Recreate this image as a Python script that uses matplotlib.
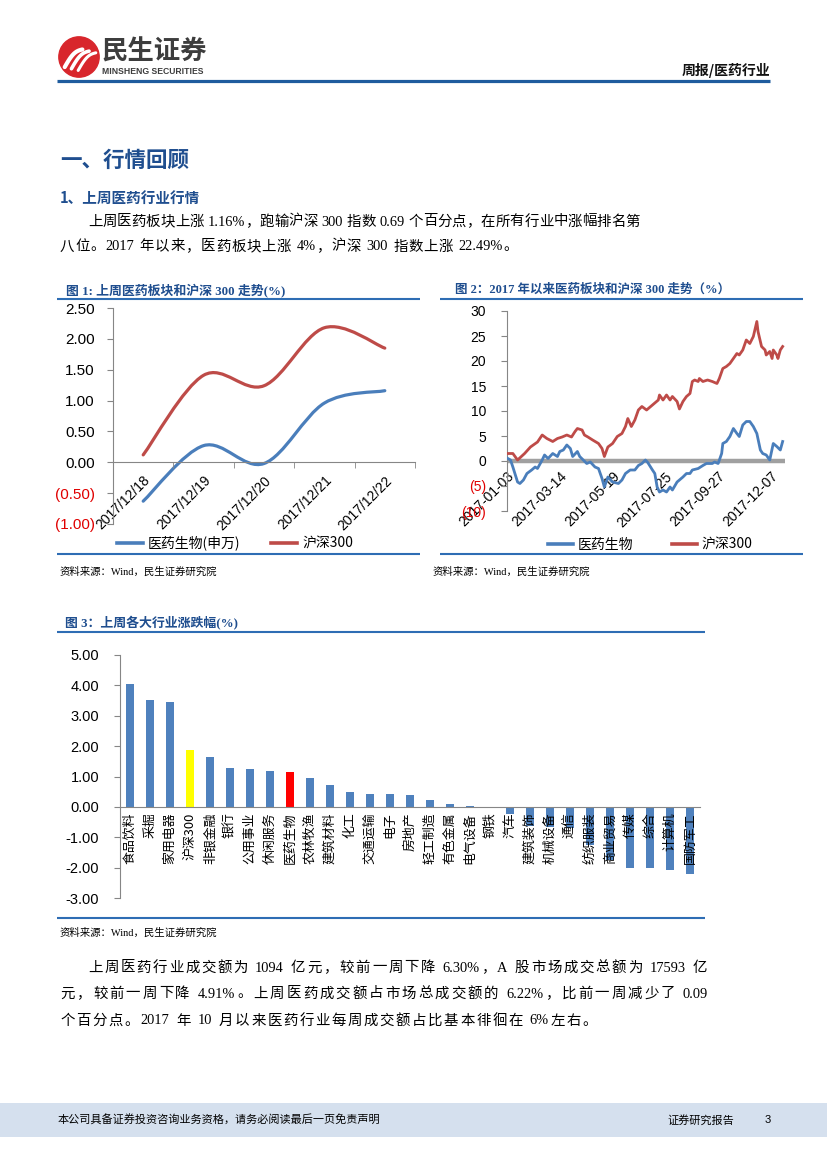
import numpy as np
import matplotlib
matplotlib.use('Agg')
import matplotlib.pyplot as plt
from matplotlib.path import Path
from matplotlib.patches import PathPatch, Circle, Rectangle
from matplotlib.lines import Line2D

# ---------------- data ----------------
c1_dates = ['2017/12/18', '2017/12/19', '2017/12/20', '2017/12/21', '2017/12/22']
c1_pharma = [-0.63, 0.27, -0.02, 0.96, 1.16]
c1_hs300 = [0.12, 1.41, 1.24, 2.18, 1.85]
c1_yticks = [-1.0, -0.5, 0.0, 0.5, 1.0, 1.5, 2.0, 2.5]
c1_ylabels = ['(1.00)', '(0.50)', '0.00', '0.50', '1.00', '1.50', '2.00', '2.50']

c2_tick_idx = [0, 45, 90, 135, 180, 225]
c2_tick_labels = ['2017-01-03', '2017-03-14', '2017-05-19', '2017-07-25', '2017-09-27', '2017-12-07']
c2_yticks = [-10, -5, 0, 5, 10, 15, 20, 25, 30]
c2_ylabels = ['(10)', '(5)', '0', '5', '10', '15', '20', '25', '30']

c2_hs300_idx = [0, 5, 9, 15, 20, 26, 30, 34, 39, 43, 47, 51, 55, 58, 60, 64, 66, 69, 73, 78,
                81, 83, 86, 90, 94, 98, 101, 103, 106, 109, 112, 115, 119, 124, 129, 130, 133, 136,
                139, 141, 145, 147, 150, 153, 156, 158, 160, 163, 164, 167, 171, 175, 179, 181, 184,
                187, 190, 193, 196, 198, 201, 204, 207, 210, 213, 214, 217, 220, 221, 224, 226, 227,
                230, 231, 233, 235]
c2_hs300_val = [1.5, 1.5, 0.2, 1.5, 2.8, 3.8, 5.2, 4.5, 3.9, 4.5, 4.8, 5.2, 4.8, 5.9, 6.5, 6.2,
                5.2, 4.8, 4.2, 3.5, 2.5, 0.9, 2.8, 3.5, 4.9, 5.5, 6.9, 8.5, 6.9, 8.2, 10.2, 10.9,
                10.2, 11.2, 12.2, 13.2, 12.2, 13.2, 12.2, 12.9, 11.9, 10.4, 11.9, 12.9, 13.5, 15.9,
                16.2, 15.9, 16.5, 15.9, 16.2, 15.9, 15.5, 16.5, 18.5, 18.9, 19.5, 20.5, 21.5, 21.2,
                22.2, 24.2, 23.5, 24.9, 27.9, 25.9, 22.9, 22.2, 21.2, 21.9, 20.5, 22.2, 21.2, 20.5,
                22.2, 22.9]

c2_pharma_idx = [0, 3, 5, 9, 11, 14, 17, 21, 24, 26, 30, 32, 35, 39, 43, 45, 48, 51, 54, 56,
                 60, 62, 65, 68, 71, 75, 78, 81, 83, 86, 90, 95, 98, 101, 105, 109, 112, 115, 118,
                 120, 124, 126, 128, 130, 133, 136, 139, 141, 145, 147, 150, 153, 156, 158, 163,
                 167, 170, 175, 177, 180, 183, 184, 187, 190, 193, 196, 198, 201, 204, 207, 210,
                 213, 216, 218, 221, 224, 227, 230, 233, 235]
c2_pharma_val = [0.6, 0.2, -1.2, -4.2, -4.5, -3.8, -2.5, -1.8, -1.2, -1.5, 0.2, 1.2, 0.5, 1.5,
                 0.9, 1.9, 2.2, 3.2, 2.5, 0.9, 1.9, 0.9, 0.2, -0.5, -0.2, -1.2, -1.5, -3.5, -5.2,
                 -3.2, -4.2, -4.5, -3.8, -2.5, -1.8, -1.8, -0.9, -0.5, 0.2, -0.3, -1.8, -2.5, -5.2,
                 -6.2, -5.8, -6.2, -5.2, -5.8, -4.2, -3.8, -3.2, -2.5, -2.5, -1.8, -1.5, -0.9, -0.5,
                 -0.5, -0.2, -0.5, 1.5, 3.5, 3.9, 4.9, 6.5, 5.5, 4.9, 7.2, 7.9, 7.9, 6.9, 5.5, 2.2,
                 1.5, 1.2, 0.2, 3.5, 2.9, 2.2, 3.9]

c3_industries = ['食品饮料', '采掘', '家用电器', '沪深300', '非银金融', '银行', '公用事业', '休闲服务',
                 '医药生物', '农林牧渔', '建筑材料', '化工', '交通运输', '电子', '房地产', '轻工制造',
                 '有色金属', '电气设备', '钢铁', '汽车', '建筑装饰', '机械设备', '通信', '纺织服装',
                 '商业贸易', '传媒', '综合', '计算机', '国防军工']
c3_values = [4.03, 3.52, 3.44, 1.86, 1.63, 1.29, 1.26, 1.19, 1.16, 0.96, 0.71, 0.49, 0.42, 0.42,
             0.38, 0.22, 0.08, 0.02, -0.02, -0.24, -0.62, -0.66, -0.70, -1.25, -1.75, -2.00, -2.02,
             -2.08, -2.22]
c3_yticks = [-3, -2, -1, 0, 1, 2, 3, 4, 5]
c3_ylabels = ['-3.00', '-2.00', '-1.00', '0.00', '1.00', '2.00', '3.00', '4.00', '5.00']

para1 = ['上周医药板块上涨 1.16%，跑输沪深 300 指数 0.69 个百分点，在所有行业中涨幅排名第',
         '八位。2017 年以来，医药板块上涨 4%，沪深 300 指数上涨 22.49%。']
para2 = ['上周医药行业成交额为 1094 亿元，较前一周下降 6.30%，A 股市场成交总额为 17593 亿',
         '元，较前一周下降 4.91%。上周医药成交额占市场总成交额的 6.22%，比前一周减少了 0.09',
         '个百分点。2017 年 10 月以来医药行业每周成交额占比基本徘徊在 6%左右。']

# ---------------- helpers ----------------
W, H = 827, 1169
fig = plt.figure(figsize=(W / 100, H / 100), dpi=100)
fig.patch.set_facecolor('white')
renderer = fig.canvas.get_renderer()

def fx(px):
    return px / W

def fy(py):
    return 1 - py / H

def rect(l, t, r, b):
    return [l / W, 1 - b / H, (r - l) / W, (b - t) / H]

CJK = ['Noto Sans CJK SC', 'DejaVu Sans']
SERIF = ['Liberation Serif', 'Noto Sans CJK SC']
SANS = ['Liberation Sans', 'Noto Sans CJK SC']
NARROW = ['Liberation Sans Narrow', 'Liberation Sans']
TBLUE = '#1F4E8F'
LBLUE = '#2E6DB4'
AXC = '#868686'
BLUE = '#4A7EBB'
RED = '#BE4B48'

def hline(x0, x1, y, color, lw):
    fig.add_artist(Line2D([fx(x0), fx(x1)], [fy(y), fy(y)], transform=fig.transFigure,
                          color=color, lw=lw, solid_capstyle='butt'))

def tokenize(text):
    toks, cur = [], ''
    for ch in text:
        if ch.isascii() and ch != ' ':
            cur += ch
        else:
            if cur:
                toks.append(cur)
                cur = ''
            toks.append(ch)
    if cur:
        toks.append(cur)
    return toks

def justified(text, x0, x1, y, size=10.4, family=SERIF):
    objs, widths = [], []
    for tok in tokenize(text):
        if tok == ' ':
            objs.append(None)
            widths.append(size * 1.389 * 0.25)
        else:
            t = fig.text(fx(x0), fy(y), tok, fontsize=size, family=family, va='center', ha='left')
            widths.append(t.get_window_extent(renderer).width)
            objs.append(t)
    gap = (x1 - x0 - sum(widths)) / max(len(objs) - 1, 1)
    x = x0
    for t, w in zip(objs, widths):
        if t is not None:
            t.set_x(fx(x))
        x += w + gap

def smooth_path(xs, ys):
    pts = np.column_stack([xs, ys]).astype(float)
    n = len(pts)
    verts = [pts[0]]
    codes = [Path.MOVETO]
    for i in range(n - 1):
        p0 = pts[i - 1] if i > 0 else pts[i]
        p1 = pts[i]
        p2 = pts[i + 1]
        p3 = pts[i + 2] if i + 2 < n else pts[i + 1]
        verts += [p1 + (p2 - p0) / 6.0, p2 - (p3 - p1) / 6.0, p2]
        codes += [Path.CURVE4] * 3
    return Path(verts, codes)

# ---------------- header ----------------
lax = fig.add_axes(rect(58, 36, 100, 78))
lax.set_xlim(0, 1)
lax.set_ylim(0, 1)
lax.axis('off')
lax.add_patch(Circle((0.5, 0.5), 0.48, color='#D8262C'))
t = np.linspace(0, 1, 40)
for k, lw in [(0, 3.0), (1, 2.6), (2, 2.2)]:
    xs = 0.16 + 0.16 * k + 0.42 * t
    ys = 0.26 + 0.42 * t + 0.10 * np.sin(np.pi * t) - 0.04 * k
    lax.plot(xs, ys, color='white', lw=lw, solid_capstyle='round')

fig.text(fx(102), fy(52), '民生证券', fontsize=19, weight='bold', color='#3d3d3d',
         family=CJK, va='center', ha='left')
fig.text(fx(102), fy(71), 'MINSHENG SECURITIES', fontsize=6.2, weight='bold',
         color='#3d3d3d', family=['Liberation Sans'], va='center', ha='left')
fig.text(fx(770), fy(70), '周报/医药行业', fontsize=10, weight='bold', color='#111111',
         family=CJK, va='center', ha='right')
hline(57, 770, 81, '#1F5C9E', 2.3)

fig.text(fx(60), fy(160), '一、行情回顾', fontsize=15.5, weight='bold', color=TBLUE,
         family=CJK, va='center')
fig.text(fx(60), fy(198), '1、上周医药行业行情', fontsize=10.5, weight='bold', color=TBLUE,
         family=CJK, va='center')
justified(para1[0], 88, 640, 222)
justified(para1[1], 60, 518, 247)

# ---------------- chart 1 ----------------
fig.text(fx(66), fy(290), '图 1: 上周医药板块和沪深 300 走势(%)', fontsize=9.3, weight='bold',
         color=TBLUE, family=SERIF, va='center')
hline(57, 420, 299, LBLUE, 1.5)
hline(57, 420, 554, LBLUE, 1.5)
fig.text(fx(60), fy(572), '资料来源：Wind，民生证券研究院', fontsize=7.5, family=SERIF, va='center')

ax1 = fig.add_axes(rect(113, 308, 415, 524))
ax1.set_xlim(-0.5, len(c1_dates) - 0.5)
ax1.set_ylim(-1.0, 2.5)
ax1.patch.set_alpha(0)
for s in ['top', 'right']:
    ax1.spines[s].set_visible(False)
ax1.spines['left'].set_color(AXC)
ax1.spines['bottom'].set_color(AXC)
ax1.spines['bottom'].set_position(('data', 0))
x1 = np.arange(len(c1_dates))
ax1.add_patch(PathPatch(smooth_path(x1, c1_pharma), fill=False, edgecolor=BLUE, lw=2.3,
                        capstyle='round'))
ax1.add_patch(PathPatch(smooth_path(x1, c1_hs300), fill=False, edgecolor=RED, lw=2.3,
                        capstyle='round'))
ax1.set_yticks(c1_yticks)
ax1.set_yticklabels(c1_ylabels, fontsize=11, family=['Liberation Sans'])
for lab, v in zip(ax1.get_yticklabels(), c1_yticks):
    lab.set_color('#E00000' if v < 0 else 'black')
ax1.tick_params(axis='y', length=4, color=AXC, pad=9)
ax1.set_xticks(x1)
ax1.set_xticklabels(c1_dates, fontsize=10, family=['Liberation Sans'], rotation=45,
                    ha='right', va='top', rotation_mode='anchor')
ax1.tick_params(axis='x', length=0, pad=8)
ax1.set_xticks(np.arange(-0.5, len(c1_dates)), minor=True)
ax1.tick_params(axis='x', which='minor', length=4, color=AXC, direction='out')
h1 = [Line2D([], [], color=BLUE, lw=2.6), Line2D([], [], color=RED, lw=2.6)]
ax1.legend(h1, ['医药生物(申万)', '沪深300'], loc='center', bbox_to_anchor=(fx(235), fy(543)),
           bbox_transform=fig.transFigure, ncol=2, frameon=False, handlelength=1.9,
           handletextpad=0.35, columnspacing=2.2, prop={'family': CJK, 'size': 10})

# ---------------- chart 2 ----------------
fig.text(fx(455), fy(290), '图 2：2017 年以来医药板块和沪深 300 走势（%）', fontsize=9.0,
         weight='bold', color=TBLUE, family=SERIF, va='center')
hline(440, 803, 299, LBLUE, 1.5)
hline(440, 803, 554, LBLUE, 1.5)
fig.text(fx(433), fy(572), '资料来源：Wind，民生证券研究院', fontsize=7.5, family=SERIF, va='center')

ax2 = fig.add_axes(rect(507, 311, 785, 511))
ax2.set_xlim(0, 237)
ax2.set_ylim(-10, 30)
ax2.patch.set_alpha(0)
for s in ['top', 'right']:
    ax2.spines[s].set_visible(False)
ax2.spines['left'].set_color(AXC)
ax2.spines['bottom'].set_position(('data', 0))
ax2.spines['bottom'].set_visible(False)
ax2.axhline(0, color='#A0A0A0', lw=3.2, zorder=1)
ax2.plot(c2_hs300_idx, c2_hs300_val, color=RED, lw=2.0, zorder=3)
ax2.plot(c2_pharma_idx, c2_pharma_val, color=BLUE, lw=2.0, zorder=4)
ax2.set_yticks(c2_yticks)
ax2.set_yticklabels(c2_ylabels, fontsize=10, family=['Liberation Sans'])
for lab, v in zip(ax2.get_yticklabels(), c2_yticks):
    lab.set_color('#E00000' if v < 0 else 'black')
ax2.tick_params(axis='y', length=4, color=AXC, pad=11)
ax2.set_xticks(c2_tick_idx)
ax2.set_xticklabels(c2_tick_labels, fontsize=10, family=['Liberation Sans'], rotation=45,
                    ha='right', va='top', rotation_mode='anchor')
ax2.tick_params(axis='x', length=0, pad=6)
h2 = [Line2D([], [], color=BLUE, lw=2.6), Line2D([], [], color=RED, lw=2.6)]
ax2.legend(h2, ['医药生物', '沪深300'], loc='center', bbox_to_anchor=(fx(650), fy(545)),
           bbox_transform=fig.transFigure, ncol=2, frameon=False, handlelength=1.8,
           handletextpad=0.35, columnspacing=2.8, prop={'family': CJK, 'size': 10})

# ---------------- chart 3 ----------------
fig.text(fx(65), fy(623), '图 3：上周各大行业涨跌幅(%)', fontsize=9.3, weight='bold',
         color=TBLUE, family=SERIF, va='center')
hline(57, 705, 632, LBLUE, 1.5)
hline(57, 705, 918, LBLUE, 1.5)
fig.text(fx(60), fy(933), '资料来源：Wind，民生证券研究院', fontsize=7.5, family=SERIF, va='center')

ax3 = fig.add_axes(rect(120, 655, 700, 898))
x3 = np.arange(len(c3_industries))
ax3.set_xlim(-0.5, len(c3_industries) - 0.5)
ax3.set_ylim(-3, 5)
ax3.patch.set_alpha(0)
bar_colors = ['#FFFF00' if n == '沪深300' else ('#FF0000' if n == '医药生物' else '#4F81BD')
              for n in c3_industries]
ax3.bar(x3, c3_values, width=0.42, color=bar_colors, zorder=1)
for s in ['top', 'right']:
    ax3.spines[s].set_visible(False)
ax3.spines['left'].set_color(AXC)
ax3.spines['bottom'].set_color(AXC)
ax3.spines['bottom'].set_position(('data', 0))
ax3.set_yticks(c3_yticks)
ax3.set_yticklabels(c3_ylabels, fontsize=10.5, family=NARROW)
ax3.tick_params(axis='y', length=4, color=AXC, pad=11)
ax3.set_xticks(x3)
ax3.set_xticklabels(c3_industries, fontsize=9.3, family=CJK, rotation=90, ha='center', va='top')
ax3.tick_params(axis='x', length=0, pad=4)

# ---------------- paragraph 2 ----------------
justified(para2[0], 88, 707, 968)
justified(para2[1], 60, 708, 994)
justified(para2[2], 60, 597, 1021)

# ---------------- footer ----------------
fig.add_artist(Rectangle((0, fy(1137)), 1, (1137 - 1103) / H, transform=fig.transFigure,
                         facecolor='#D5E0EE', edgecolor='none', zorder=0))
fig.text(fx(58), fy(1120), '本公司具备证券投资咨询业务资格，请务必阅读最后一页免责声明', fontsize=8,
         family=CJK, va='center')
fig.text(fx(667), fy(1120), '证券研究报告', fontsize=8, family=CJK, va='center')
fig.text(fx(765), fy(1120), '3', fontsize=8, family=SANS, va='center')

fig.savefig('out.png', dpi=100)
